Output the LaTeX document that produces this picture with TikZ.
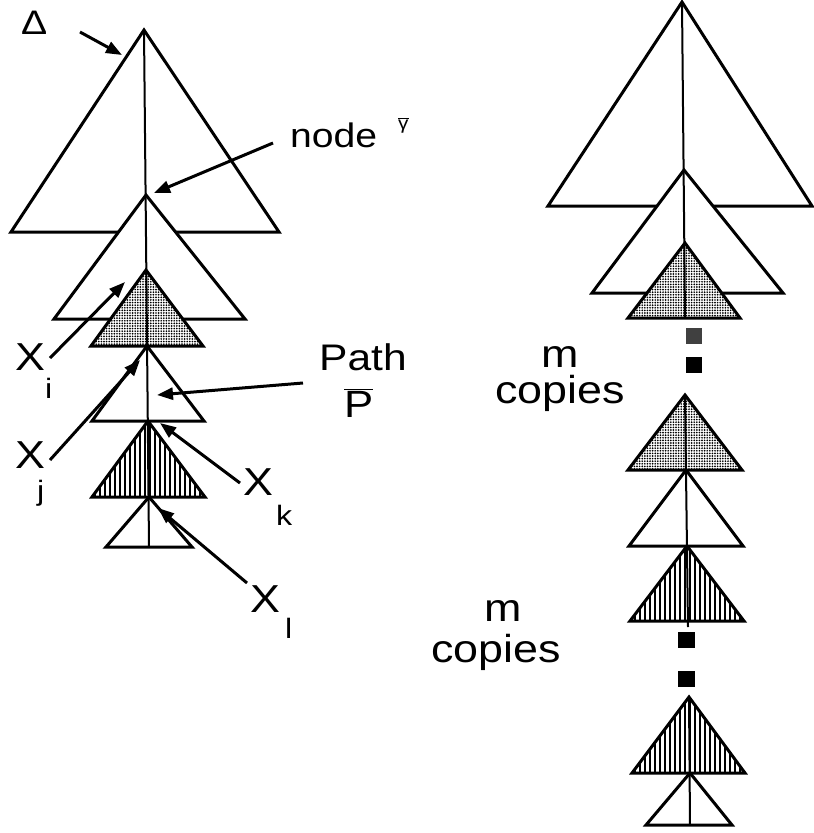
\documentclass[tikz,border=0pt]{standalone}
\usepackage{fontspec}
\setmainfont{Liberation Sans}[FakeStretch=1.15]
\usetikzlibrary{arrows.meta,patterns.meta}
\newcommand{\lblsize}[1]{\fontsize{#1}{#1}\selectfont}
\tikzset{
  plaintri/.style={draw,line width=3pt,fill=white},
  dottri/.style={preaction={fill=white},
                 preaction={pattern={Dots[radius=0.95pt,distance=2.6pt]}},
                 draw,line width=3pt},
  hatchtri/.style={preaction={fill=white},
                   preaction={pattern={Lines[angle=90,distance=5pt,line width=2pt]}},
                   draw,line width=3pt},
  spine/.style={line width=2pt},
  dotsq/.style={fill=black!75},
  solidsq/.style={fill=black},
  lbl/.style={inner sep=0pt,anchor=base west},
  clbl/.style={inner sep=0pt,anchor=base},
  pointarr/.style={-{Triangle[length=16pt,width=12pt]},line width=3pt}
}

\begin{document}
\begin{tikzpicture}[x=1pt,y=-1pt]
  \useasboundingbox (0,0) rectangle (814,833);

  % left tree, drawn from the top down
  \draw[plaintri] (144,30) -- (11,232) -- (279,232) -- cycle;
  \draw[plaintri] (146,195) -- (54,319) -- (245,319) -- cycle;
  \draw[dottri]   (146,270) -- (91,346) -- (203,346) -- cycle;
  \draw[plaintri] (147,346) -- (92,421) -- (204,421) -- cycle;
  \draw[hatchtri] (148,421) -- (92,497) -- (205,497) -- cycle;
  \draw[plaintri] (149,497) -- (106,547) -- (192,547) -- cycle;
  \draw[spine] (144,30) -- (149,547);

  % right tree
  \draw[plaintri] (682,2) -- (548,206) -- (812,206) -- cycle;
  \draw[plaintri] (684,170) -- (592,293) -- (783,293) -- cycle;
  \draw[dottri]   (685,243) -- (628,318) -- (740,318) -- cycle;
  \draw[spine] (682,2) -- (685,318);
  \fill[dotsq]   (686,328) rectangle (702,344);
  \fill[solidsq] (686,357) rectangle (702,373);
  \draw[dottri]   (685,395) -- (628,470) -- (742,470) -- cycle;
  \draw[plaintri] (686,470) -- (629,546) -- (743,546) -- cycle;
  \draw[hatchtri] (687,546) -- (630,621) -- (744,621) -- cycle;
  \draw[spine] (685,395) -- (688,627);
  \fill[solidsq] (678,632) rectangle (695,648);
  \fill[solidsq] (678,671) rectangle (695,687);
  \draw[hatchtri] (689,697) -- (632,773) -- (745,773) -- cycle;
  \draw[plaintri] (690,773) -- (646,825) -- (732,825) -- cycle;
  \draw[spine] (689,697) -- (690,825);

  % labels
  \node[lbl,font=\lblsize{34}] (delta) at (21,34) {Δ};
  \node[lbl,font=\lblsize{34}] (nodelbl) at (290,147) {node};
  \node[lbl,font=\lblsize{18}] (gam) at (398,129) {$\overline{\mbox{γ}}$};
  \node[lbl,font=\lblsize{37}] (path) at (319,370) {Path};
  \node[lbl,font=\lblsize{38}] (pbar) at (344,417) {$\overline{\mbox{P}}$};
  \node[lbl,font=\lblsize{39}] (xi) at (15,370) {X};
  \node[lbl,font=\lblsize{28}] (xisub) at (45,398) {i};
  \node[lbl,font=\lblsize{39}] (xj) at (15,468) {X};
  \node[lbl,font=\lblsize{28}] (xjsub) at (37,500) {j};
  \node[lbl,font=\lblsize{39}] (xk) at (243,495) {X};
  \node[lbl,font=\lblsize{28}] (xksub) at (276,525) {k};
  \node[lbl,font=\lblsize{39}] (xl) at (250,612) {X};
  \node[lbl,font=\lblsize{28}] (xlsub) at (285,638) {l};
  \node[clbl,font=\lblsize{39}] (mtop) at (560,367) {m};
  \node[clbl,font=\lblsize{39}] (cptop) at (560,403) {copies};
  \node[clbl,font=\lblsize{39}] (mbot) at (503,621) {m};
  \node[clbl,font=\lblsize{39}] (cpbot) at (496,662) {copies};

  % arrow ends
  \coordinate (d0) at (80,32);   \coordinate (d1) at (122,55);
  \coordinate (g0) at (273,143); \coordinate (g1) at (154,193);
  \coordinate (i0) at (50,358);  \coordinate (i1) at (125,282);
  \coordinate (j0) at (50,460);  \coordinate (j1) at (140,360);
  \coordinate (p0) at (303,383); \coordinate (p1) at (157,395);
  \coordinate (k0) at (240,483); \coordinate (k1) at (160,423);
  \coordinate (l0) at (247,583); \coordinate (l1) at (158,508);
  \draw[pointarr] (d0) -- (d1);
  \draw[pointarr] (g0) -- (g1);
  \draw[pointarr] (i0) -- (i1);
  \draw[pointarr] (j0) -- (j1);
  \draw[pointarr] (p0) -- (p1);
  \draw[pointarr] (k0) -- (k1);
  \draw[pointarr] (l0) -- (l1);
\end{tikzpicture}
\end{document}
